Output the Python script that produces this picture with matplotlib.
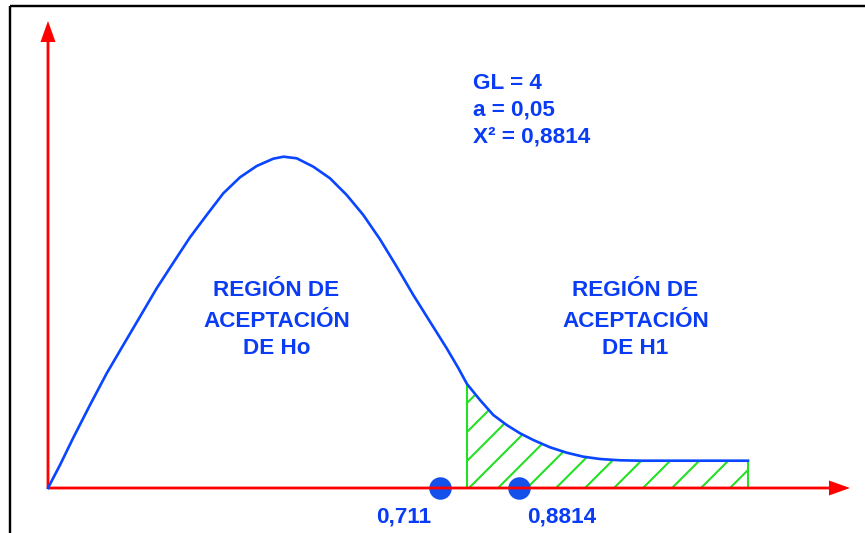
import matplotlib
matplotlib.use("Agg")
import matplotlib.pyplot as plt
import numpy as np

curve_x = [0, 12, 25.3, 42, 58.7, 75.3, 92, 108.7, 125.3, 142, 158.7, 175.3, 192,
           208.7, 225.3, 235.5, 248.7, 265.3, 282, 298.7, 315.3, 332, 348.7, 365.3,
           382, 398.7, 410, 419, 432, 445.3, 458.7, 472, 485.3, 502, 518.7, 535.3,
           552, 572, 592, 700]
curve_y = [0, 23, 50.3, 83, 114.7, 143, 171.3, 199.7, 225.3, 250.7, 273, 294.7, 310.7,
           322, 329.3, 331.3, 329.7, 321.3, 309.7, 293, 273, 248.7, 221.3, 193,
           166.3, 139.7, 120.5, 104, 88, 73, 63, 54.7, 48, 40.7, 35.3, 31.3,
           29, 27.7, 27.3, 27.3]

crit_start = 419
point_x = [392, 471]
point_labels = ["0,711", "0,8814"]
info_lines = ["GL = 4", "a = 0,05", "X² = 0,8814"]
region_h0 = ["REGIÓN DE", "ACEPTACIÓN", "DE Ho"]
region_h1 = ["REGIÓN DE", "ACEPTACIÓN", "DE H1"]

BLUE = "#0a46ff"
TEXT_BLUE = "#0a3cf5"
DOT_BLUE = "#1450eb"
RED = "#ff0000"
GREEN = "#22e022"

DPI = 174
plt.rcParams["font.family"] = ["Liberation Sans", "DejaVu Sans"]
plt.rcParams["hatch.linewidth"] = 0.85
plt.rcParams["hatch.color"] = GREEN

fig = plt.figure(figsize=(865 / DPI, 533 / DPI), dpi=DPI)
ax = fig.add_axes([0, 0, 1, 1])
ax.set_xlim(-48, 817)
ax.set_ylim(-45, 488)
ax.axis("off")

# outer frame (only top and left visible)
ax.plot([-38, 900], [482, 482], color="black", lw=1.0, solid_capstyle="butt")
ax.plot([-38, -38], [482, -80], color="black", lw=1.0, solid_capstyle="butt")

cx = np.array(curve_x, dtype=float)
cy = np.array(curve_y, dtype=float)
mask = cx >= crit_start
ax.fill_between(cx[mask], 0, cy[mask], facecolor="none", edgecolor=GREEN,
                hatch="//", linewidth=0, zorder=1)
ax.vlines([cx[mask][0], cx[mask][-1]], 0, [cy[mask][0], cy[mask][-1]],
          color=GREEN, lw=0.85, zorder=2)

ax.plot(point_x, [0, 0], "o", color=DOT_BLUE, markersize=8.3, zorder=3)

# axes arrows
ax.arrow(0, 0, 0, 467, width=2.8, head_width=15, head_length=21,
         length_includes_head=True, color=RED, lw=0, zorder=4)
ax.arrow(0, 0, 802, 0, width=2.8, head_width=15, head_length=21,
         length_includes_head=True, color=RED, lw=0, zorder=4)

ax.plot(cx, cy, color=BLUE, lw=1.1, zorder=5, solid_joinstyle="round")

font = dict(color=TEXT_BLUE, fontsize=9.3, fontweight="bold")
for i, line in enumerate(info_lines):
    ax.text(425, 398.7 - 26.5 * i, line, ha="left", va="baseline", **font)

baselines = [192.3, 161.3, 133.7]
for line, yb in zip(region_h0, baselines):
    ax.text(228.5, yb, line, ha="center", va="baseline", **font)
for line, yb in zip(region_h1, baselines):
    ax.text(587.5, yb, line, ha="center", va="baseline", **font)

ax.text(355.5, -35, point_labels[0], ha="center", va="baseline", **font)
ax.text(514, -35, point_labels[1], ha="center", va="baseline", **font)

fig.savefig("out.png", dpi=DPI)
